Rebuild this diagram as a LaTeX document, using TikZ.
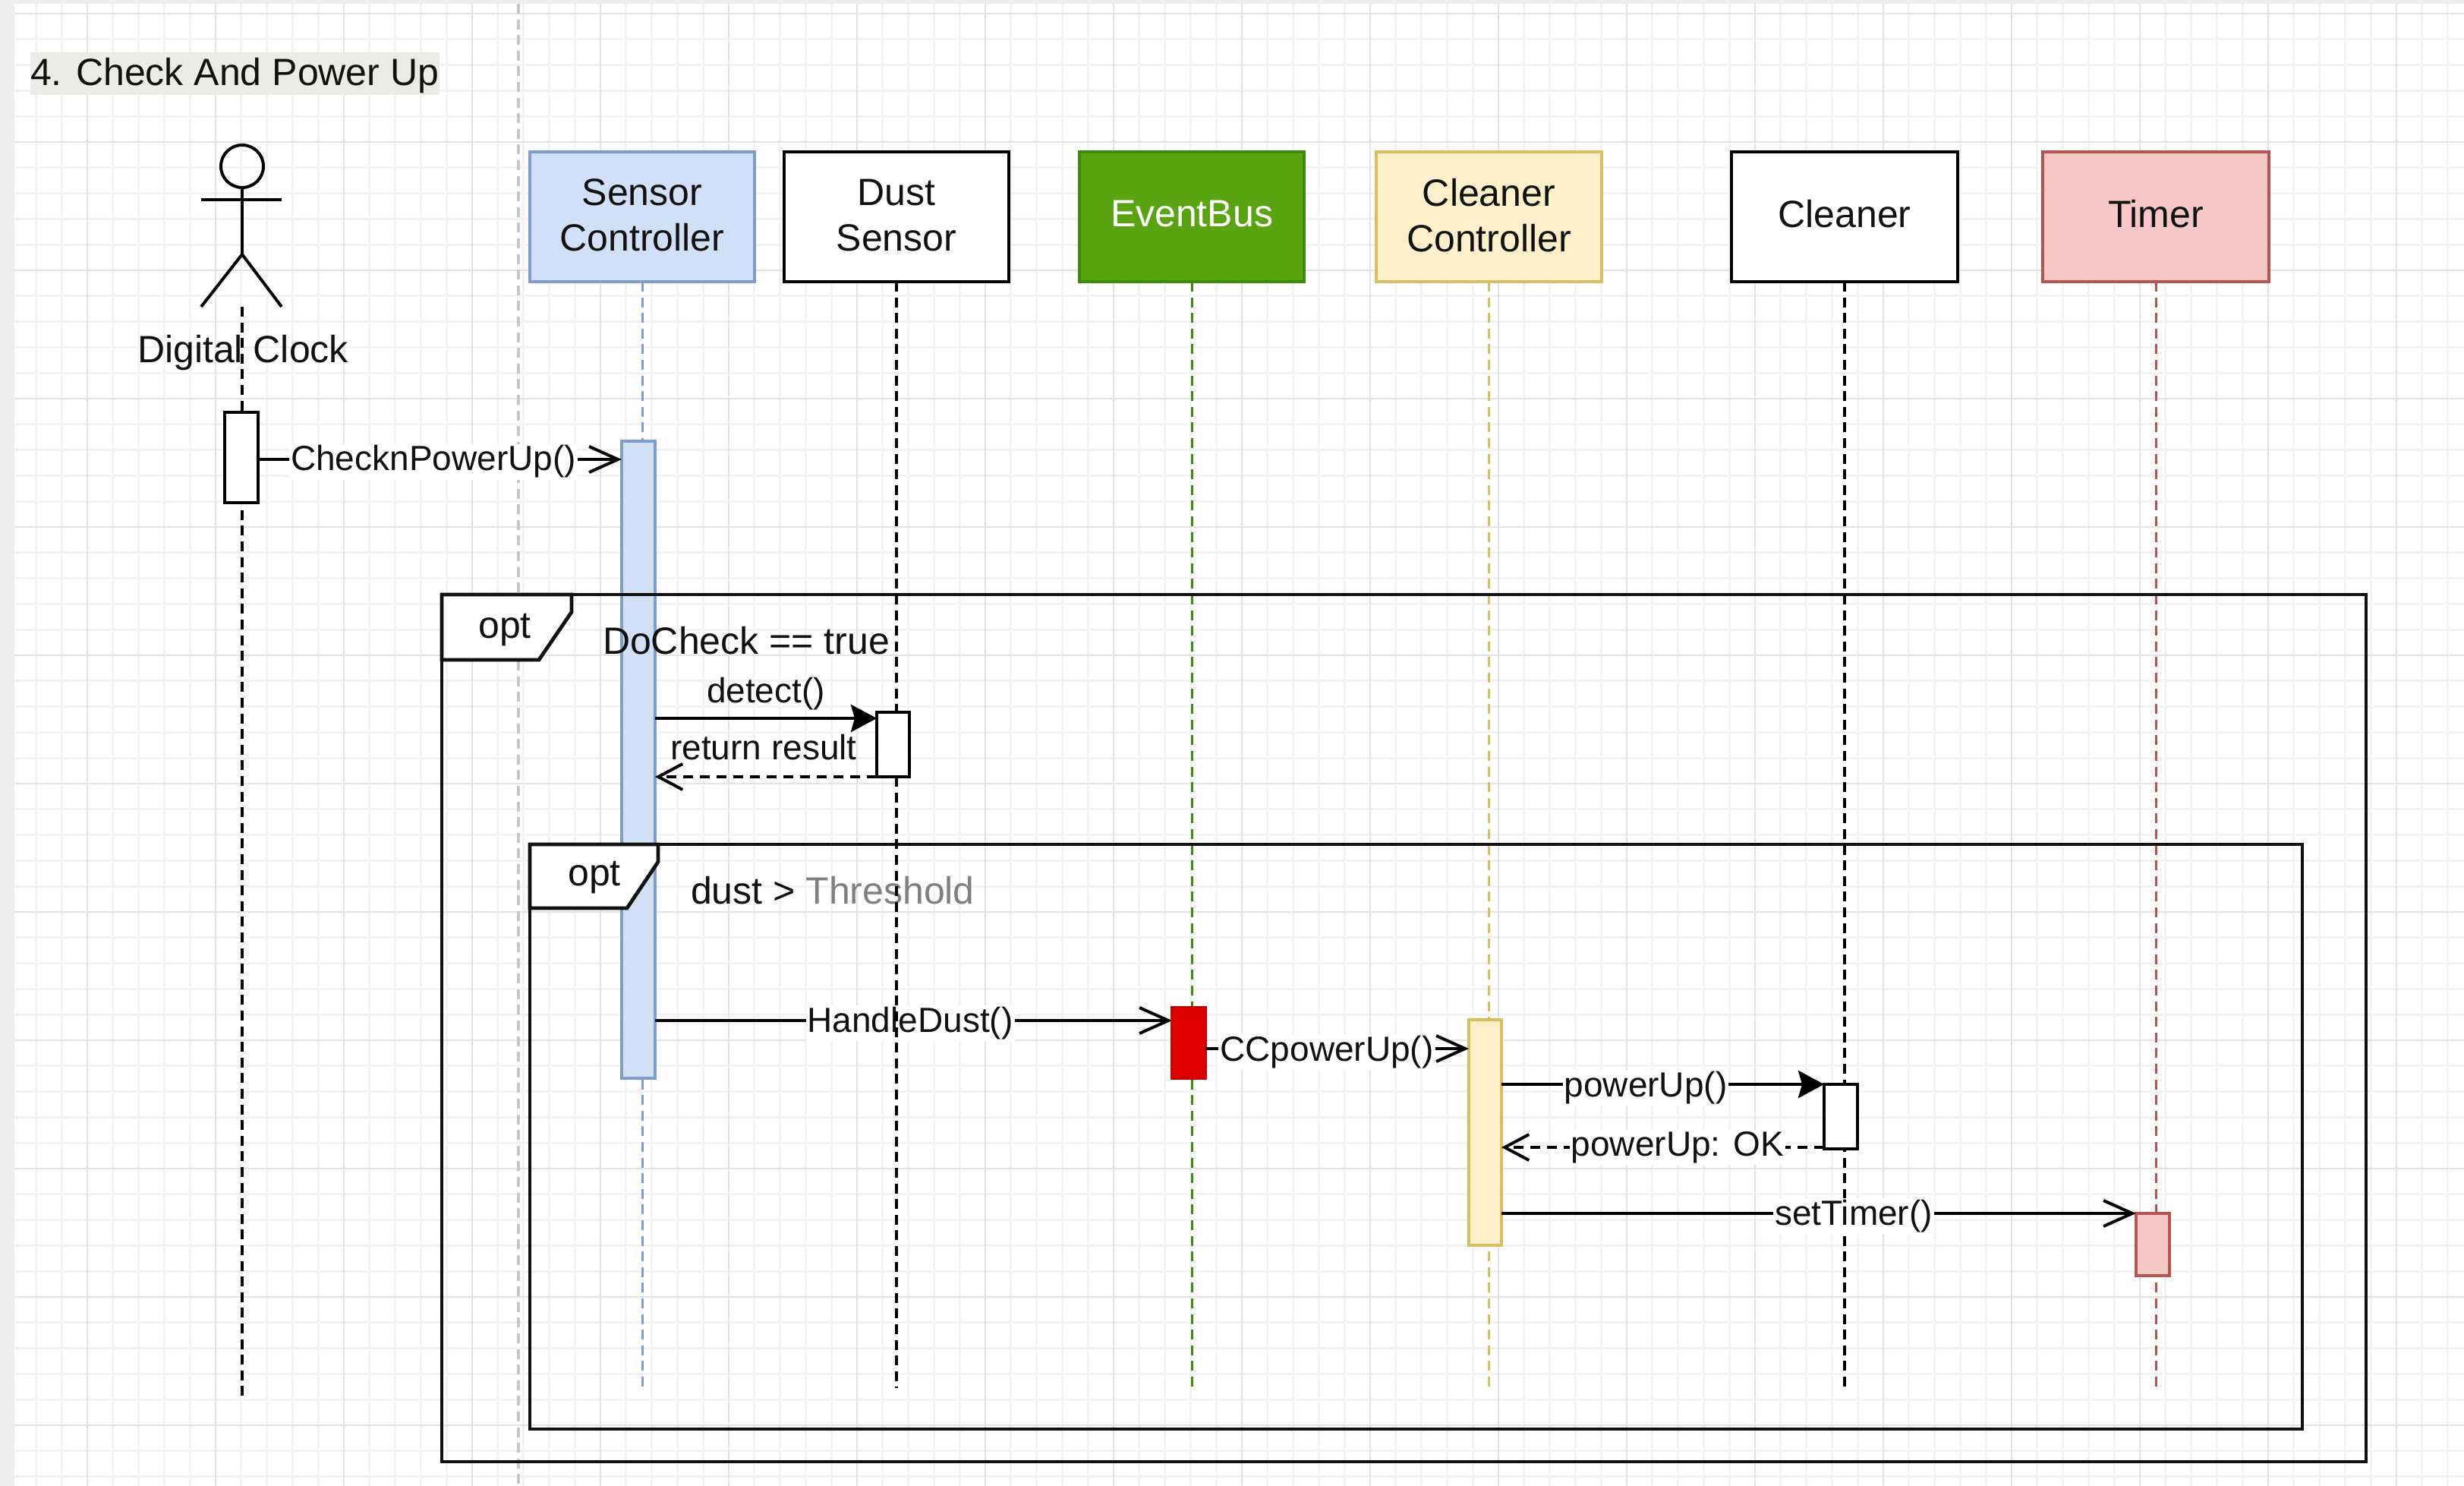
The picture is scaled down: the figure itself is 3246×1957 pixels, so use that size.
\documentclass[tikz,border=0pt]{standalone}
\usepackage{fontspec}
\setmainfont{Liberation Sans}
\usetikzlibrary{arrows.meta,calc}
\definecolor{gridmin}{HTML}{F3F3F3}
\definecolor{gridmaj}{HTML}{E3E3E3}
\definecolor{pagegray}{HTML}{EEEEEE}
\definecolor{titlebg}{HTML}{ECEBE8}
\definecolor{bluef}{HTML}{CFE0F7}
\definecolor{blued}{HTML}{7F9CCB}
\definecolor{greenf}{HTML}{5AA412}
\definecolor{greend}{HTML}{3C8A0E}
\definecolor{yellowf}{HTML}{FCEFC9}
\definecolor{yellowd}{HTML}{D9BE62}
\definecolor{redf}{HTML}{F5C8C6}
\definecolor{redd}{HTML}{B85450}
\definecolor{txt}{HTML}{111111}
\tikzset{
  x=0.5pt,y=-0.5pt,
  every node/.style={text=txt,inner sep=0pt,outer sep=0pt},
  mainfont/.style={font=\fontsize{25}{30}\selectfont},
  msgfont/.style={font=\fontsize{23}{28}\selectfont},
  shapebox/.style={draw,line width=2.2pt,align=center,mainfont},
  actbox/.style={draw,line width=2pt},
  lifeblack/.style={draw=black,line width=2pt,dash pattern=on 6.5pt off 3.8pt},
  lifecol/.style={line width=1.5pt,dash pattern=on 6.5pt off 3.8pt},
  msg/.style={draw=black,line width=2pt,-{Straight Barb[length=19pt,width=17pt,line width=2pt]}},
  msgsolid/.style={draw=black,line width=2.4pt,-{Stealth[length=17pt,width=18pt,inset=2.5pt]}},
  ret/.style={draw=black,line width=2pt,dash pattern=on 6.5pt off 4.5pt,-{Straight Barb[length=16pt,width=17pt,line width=2pt]}},
  msglabel/.style={msgfont,fill=white,inner xsep=1pt,inner ysep=1pt,anchor=base},
  framebox/.style={draw=txt,line width=2.4pt},
  tabshape/.style={draw=txt,line width=2.4pt,fill=white,line join=miter},
  plain/.style={mainfont,anchor=base west}
}
% #1 style, #2 name, #3 x1, #4 y1, #5 x2, #6 y2, #7 text
\newcommand\pxbox[7]{\node[#1,minimum width={(#5-#3)*0.5pt},minimum height={(#6-#4)*0.5pt}] (#2) at ({(#3+#5)/2},{(#4+#6)/2}) {#7};}
% extra depth raises the text a little inside its box
\newcommand\liftone{\rule[-2pt]{0pt}{2pt}}
\newcommand\lifttwo{\rule[-4pt]{0pt}{4pt}}
\begin{document}
\begin{tikzpicture}
\useasboundingbox (0,0) rectangle (3246,1957);
% page and grid
\fill[pagegray] (0,0) rectangle (3246,1957);
\fill[white] (19,5) rectangle (3246,1957);
\foreach \i in {0,...,95} {
  \pgfmathsetmacro\xx{47.4+33.8*\i}
  \draw[gridmin,line width=1.4pt] (\xx,5) -- (\xx,1957);
}
\foreach \i in {0,...,57} {
  \pgfmathsetmacro\yy{18+33.8*\i}
  \draw[gridmin,line width=1.4pt] (19,\yy) -- (3246,\yy);
}
\foreach \i in {0,...,18} {
  \pgfmathsetmacro\xx{115+169*\i}
  \draw[gridmaj,line width=1.4pt] (\xx,5) -- (\xx,1957);
}
\foreach \i in {0,...,11} {
  \pgfmathsetmacro\yy{18+169*\i}
  \draw[gridmaj,line width=1.4pt] (19,\yy) -- (3246,\yy);
}
\coordinate (gTop) at (683,5);
\coordinate (gBot) at (683,1957);
\draw[draw=black!22,line width=1.7pt,dash pattern=on 6.5pt off 3.8pt] (gTop) -- (gBot);
% title
\pxbox{fill=titlebg}{title}{40}{69}{579}{125}{}
\node[plain] (titletext) at (40,113) {4. Check And Power Up};
% actor
\node[draw=black,line width=2pt,circle,minimum size=28pt] (head) at (319,219) {};
\coordinate (armL) at (265,263);
\coordinate (armR) at (371,263);
\coordinate (hip) at (319,335);
\coordinate (legL) at (265,404);
\coordinate (legR) at (371,404);
\draw[line width=2pt] (head.south) -- (hip);
\draw[line width=2pt] (armL) -- (armR);
\draw[line width=2pt] (legL) -- (hip) -- (legR);
\node[mainfont,anchor=base] (actorlabel) at (320,478) {Digital Clock};
% header boxes
\pxbox{shapebox,fill=bluef,draw=blued}{hSensor}{698}{200}{994}{371}{Sensor\\Controller\liftone}
\pxbox{shapebox,fill=white,draw=black}{hDust}{1033}{200}{1329}{371}{Dust\\Sensor\liftone}
\pxbox{shapebox,fill=greenf,draw=greend,text=white}{hBus}{1422}{200}{1718}{371}{EventBus\lifttwo}
\pxbox{shapebox,fill=yellowf,draw=yellowd}{hCC}{1813}{200}{2110}{371}{Cleaner\\Controller\liftone}
\pxbox{shapebox,fill=white,draw=black}{hCleaner}{2281}{200}{2579}{371}{Cleaner\lifttwo}
\pxbox{shapebox,fill=redf,draw=redd}{hTimer}{2691}{200}{2989}{371}{Timer\lifttwo}
% lifelines behind the frames
\coordinate (clockTop) at (319,404);
\coordinate (clockEnd) at (319,1838);
\coordinate (lifeEnd) at (0,1828);
\draw[lifeblack] (clockTop) -- (clockEnd);
\draw[lifecol,draw=blued] (hSensor.south) -- (hSensor.south |- lifeEnd);
\draw[lifecol,draw=greend] (hBus.south) -- (hBus.south |- lifeEnd);
\draw[lifecol,draw=yellowd] (hCC.south) -- (hCC.south |- lifeEnd);
\draw[lifeblack] (hCleaner.south) -- (hCleaner.south |- lifeEnd);
\draw[lifecol,draw=redd] (hTimer.south) -- (hTimer.south |- lifeEnd);
% sensor activation
\pxbox{actbox,fill=bluef,draw=blued}{aSensor}{819}{581}{863}{1420}{}
% frames
\pxbox{framebox}{fOuter}{582}{783}{3117}{1925}{}
\pxbox{framebox}{fInner}{698}{1112}{3033}{1882}{}
\draw[tabshape] (fOuter.north west) -- (753,783) -- (753,806) -- (710,869) -- (582,869) -- cycle;
\draw[tabshape] (fInner.north west) -- (867,1112) -- (867,1135) -- (826,1196) -- (698,1196) -- cycle;
\node[mainfont,anchor=base] (opt1) at (665,840) {opt};
\node[mainfont,anchor=base] (opt2) at (783,1166) {opt};
\node[plain] (cond1) at (794,861) {DoCheck == true};
\node[plain] (cond2) at (910,1190) {dust > \textcolor{black!50}{Threshold}};
% activations
\pxbox{actbox,fill=white,draw=black}{aClock}{296}{543}{340}{662}{}
\pxbox{actbox,fill=red!88!black,draw=red!80!black}{aBus}{1544}{1327}{1588}{1420}{}
\pxbox{actbox,fill=yellowf,draw=yellowd}{aCC}{1935}{1343}{1978}{1640}{}
\pxbox{actbox,fill=redf,draw=redd}{aTimer}{2814}{1598}{2858}{1680}{}
% y levels of the messages
\coordinate (yCheck) at (0,605);
\coordinate (yDetect) at (0,946);
\coordinate (yResult) at (0,1023);
\coordinate (yHandle) at (0,1344);
\coordinate (yCCp) at (0,1381);
\coordinate (yPower) at (0,1428);
\coordinate (yOK) at (0,1511);
\coordinate (yTimer) at (0,1598);
% dust and cleaner activations
\pxbox{actbox,fill=white,draw=black}{aDust}{1155}{938}{1198}{1023}{}
\pxbox{actbox,fill=white,draw=black}{aCleaner}{2403}{1428}{2447}{1513}{}
% messages
\draw[msg] (aClock.east |- yCheck) -- (aSensor.west |- yCheck);
\node[msglabel] (lCheck) at (571,620) {ChecknPowerUp()};
\draw[msgsolid] (aSensor.east |- yDetect) -- (aDust.west |- yDetect);
\node[msglabel,fill=none] (lDetect) at (1009,925) {detect()};
\draw[ret] (aDust.south west |- yResult) -- (aSensor.east |- yResult);
\node[msglabel,fill=none] (lResult) at (1006,1000) {return result};
\draw[msg] (aSensor.east |- yHandle) -- (aBus.west |- yHandle);
\node[msglabel] (lHandle) at (1199,1359) {HandleDust()};
\draw[msg] (aBus.east |- yCCp) -- (aCC.west |- yCCp);
\node[msglabel] (lCCp) at (1748,1397) {CCpowerUp()};
\draw[msgsolid] (aCC.east |- yPower) -- (aCleaner.west |- yPower);
\node[msglabel] (lPower) at (2168,1444) {powerUp()};
\draw[ret] (aCleaner.west |- yOK) -- (aCC.east |- yOK);
\node[msglabel] (lOK) at (2210,1522) {powerUp: OK};
\draw[msg] (aCC.east |- yTimer) -- (aTimer.west |- yTimer);
\node[msglabel] (lTimer) at (2442,1613) {setTimer()};
% dust lifeline over the labels, broken by its activation
\coordinate (dustGapTop) at (hDust.south |- aDust.north);
\coordinate (dustGapBot) at (hDust.south |- aDust.south);
\draw[lifeblack] (hDust.south) -- (dustGapTop);
\draw[lifeblack] (dustGapBot) -- (hDust.south |- lifeEnd);
\end{tikzpicture}
\end{document}
